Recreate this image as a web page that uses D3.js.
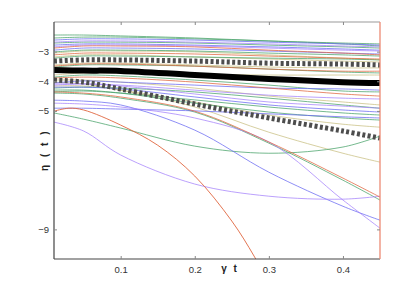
<!DOCTYPE html>
<html>
<head>
<meta charset="utf-8">
<script src="https://cdn.jsdelivr.net/npm/d3@7"></script>
<style>
  body { margin: 0; background: #fff; }
  text { font-family: "Liberation Sans", Arial, sans-serif; }
</style>
</head>
<body>
<div id="chart"></div>
<script>
const width = 420;
const height = 293;
const margin = {top: 22, right: 40, bottom: 34, left: 54};

// sample times shared by the thin curves
const tGrid = [0.01, 0.05, 0.1, 0.2, 0.3, 0.4, 0.45];

const greenCurves = [
  [-2.44, -2.44, -2.47, -2.54, -2.64, -2.71, -2.74],
  [-2.71, -2.68, -2.68, -2.71, -2.78, -2.84, -2.88],
  [-3.01, -2.95, -2.95, -2.98, -3.05, -3.11, -3.15],
  [-3.22, -3.15, -3.15, -3.18, -3.22, -3.25, -3.28],
  [-2.54, -2.51, -2.51, -2.57, -2.64, -2.74, -2.81],
  [-3.52, -3.45, -3.45, -3.49, -3.59, -3.69, -3.72],
  [-3.86, -3.79, -3.82, -3.96, -4.13, -4.33, -4.36],
  [-4.23, -4.20, -4.23, -4.36, -4.57, -4.80, -4.91],
  [-4.36, -4.33, -4.40, -4.63, -4.87, -5.07, -5.14],
  [-4.30, -4.30, -4.40, -4.74, -5.04, -5.24, -5.31],
  [-5.07, -5.28, -5.58, -6.19, -6.43, -6.22, -5.85],
  [-4.40, -4.43, -4.57, -5.04, -6.09, -7.34, -8.01]
];
const blueCurves = [
  [-2.61, -2.57, -2.57, -2.61, -2.68, -2.74, -2.78],
  [-2.78, -2.74, -2.74, -2.78, -2.84, -2.91, -2.95],
  [-2.95, -2.88, -2.88, -2.91, -2.98, -3.05, -3.08],
  [-4.06, -3.99, -4.03, -4.13, -4.23, -4.26, -4.30],
  [-4.20, -4.20, -4.26, -4.53, -4.80, -4.97, -5.04],
  [-4.64, -4.67, -4.80, -5.65, -7.07, -8.22, -8.69],
  [-4.91, -4.91, -4.94, -5.00, -5.10, -5.20, -5.24]
];
const redCurves = [
  [-2.88, -2.81, -2.81, -2.84, -2.95, -3.05, -3.11],
  [-3.11, -3.05, -3.05, -3.08, -3.15, -3.22, -3.25],
  [-3.49, -3.42, -3.42, -3.49, -3.59, -3.66, -3.66],
  [-3.89, -3.86, -3.89, -4.03, -4.23, -4.43, -4.50],
  [-4.36, -4.40, -4.53, -5.01, -6.05, -7.27, -7.91]
];
const purpleCurves = [
  [-2.68, -2.64, -2.64, -2.68, -2.74, -2.81, -2.84],
  [-2.84, -2.78, -2.78, -2.81, -2.88, -2.95, -2.98],
  [-4.13, -4.09, -4.13, -4.30, -4.47, -4.57, -4.60],
  [-4.09, -4.09, -4.16, -4.43, -4.70, -4.84, -4.91],
  [-4.74, -4.77, -4.87, -5.24, -6.05, -8.01, -8.96],
  [-5.38, -5.68, -6.49, -7.47, -7.88, -7.98, -7.88]
];
const oliveCurves = [
  [-3.05, -2.98, -2.98, -3.01, -3.11, -3.22, -3.28],
  [-3.18, -3.11, -3.11, -3.18, -3.25, -3.32, -3.35],
  [-3.45, -3.39, -3.39, -3.45, -3.52, -3.55, -3.55],
  [-3.79, -3.72, -3.72, -3.76, -3.79, -3.79, -3.79],
  [-3.96, -3.96, -4.03, -4.23, -4.50, -4.70, -4.80],
  [-4.16, -4.16, -4.30, -4.70, -5.14, -5.45, -5.55],
  [-4.03, -4.09, -4.30, -4.87, -5.72, -6.43, -6.73]
];

// the red curve that leaves through the bottom
const tSteep = [0.01, 0.03, 0.05, 0.1, 0.15, 0.2, 0.25, 0.28, 0.3];
const steepRed = [-5.01, -4.91, -4.97, -5.48, -6.16, -7.20, -8.72, -9.90, -10.82];

// mean and band
const meanLine = [-3.62, -3.64, -3.65, -3.79, -3.92, -4.03, -4.06];
const upperBand = [-3.32, -3.28, -3.28, -3.32, -3.39, -3.42, -3.45];
const lowerBand = [-3.96, -4.03, -4.26, -4.77, -5.24, -5.68, -5.92];

const xTicks = [0.1, 0.2, 0.3, 0.4];
const yTicks = [-3, -4, -5, -9];

const colors = {
  green: "#4aa36a",
  blue: "#6a6af2",
  red: "#e0663f",
  purple: "#a584fb",
  olive: "#c9c083"
};

const svg = d3.select("#chart")
  .append("svg")
  .attr("width", width)
  .attr("height", height);

const x = d3.scaleLinear()
  .domain([0.01, 0.45])
  .range([margin.left, width - margin.right]);

const y = d3.scaleLinear()
  .domain([-10, -2])
  .range([height - margin.bottom, margin.top]);

svg.append("clipPath").attr("id", "plot-clip")
  .append("rect")
  .attr("x", margin.left).attr("y", margin.top)
  .attr("width", x.range()[1] - margin.left)
  .attr("height", y.range()[0] - margin.top);

const line = d3.line()
  .x(d => x(d[0]))
  .y(d => y(d[1]))
  .curve(d3.curveCatmullRom);

const toPoints = (ts, vs) => ts.map((t, i) => [t, vs[i]]);

const plot = svg.append("g").attr("clip-path", "url(#plot-clip)");

const groups = [
  ["olive", oliveCurves],
  ["green", greenCurves],
  ["blue", blueCurves],
  ["purple", purpleCurves],
  ["red", redCurves]
];

groups.forEach(([name, curves]) => {
  plot.append("g")
    .selectAll("path")
    .data(curves)
    .join("path")
    .attr("d", vs => line(toPoints(tGrid, vs)))
    .attr("fill", "none")
    .attr("stroke", colors[name])
    .attr("stroke-width", 0.9)
    .attr("opacity", 0.85);
});

plot.append("path")
  .attr("d", line(toPoints(tSteep, steepRed)))
  .attr("fill", "none")
  .attr("stroke", colors.red)
  .attr("stroke-width", 0.9);

plot.append("path")
  .attr("d", line(toPoints(tGrid, meanLine)))
  .attr("fill", "none")
  .attr("stroke", "#000")
  .attr("stroke-width", 6);

[upperBand, lowerBand].forEach(vs => {
  plot.append("path")
    .attr("d", line(toPoints(tGrid, vs)))
    .attr("fill", "none")
    .attr("stroke", "#4d4d4d")
    .attr("stroke-width", 5)
    .attr("stroke-dasharray", "3,2.4");
});

// frame
const [x0, x1] = x.range();
const [yb, yt] = y.range();
svg.append("line").attr("x1", x0).attr("x2", x1).attr("y1", yt).attr("y2", yt)
  .attr("stroke", "#999").attr("stroke-width", 1);
svg.append("line").attr("x1", x0).attr("x2", x1).attr("y1", yb).attr("y2", yb)
  .attr("stroke", "#444").attr("stroke-width", 1.2);
svg.append("line").attr("x1", x0).attr("x2", x0).attr("y1", yt).attr("y2", yb)
  .attr("stroke", "#444").attr("stroke-width", 1.2);
svg.append("line").attr("x1", x1).attr("x2", x1).attr("y1", yt).attr("y2", yb)
  .attr("stroke", "#ec8a74").attr("stroke-width", 1.3);

// inward ticks
const fmt = d => d3.format(".1f")(d).replace(/^0/, "0");
svg.append("g")
  .attr("transform", `translate(0,${yb})`)
  .call(d3.axisBottom(x).tickValues(xTicks).tickSize(-3).tickPadding(7).tickFormat(d3.format(".1f")))
  .call(g => g.select(".domain").remove());
svg.append("g")
  .attr("transform", `translate(0,${yt})`)
  .call(d3.axisTop(x).tickValues(xTicks).tickSize(-3).tickFormat(""))
  .call(g => g.select(".domain").remove());
svg.append("g")
  .attr("transform", `translate(${x0},0)`)
  .call(d3.axisLeft(y).tickValues(yTicks).tickSize(-3).tickPadding(5).tickFormat(d => "\u2212" + Math.abs(d)))
  .call(g => g.select(".domain").remove());
svg.append("g")
  .attr("transform", `translate(${x1},0)`)
  .call(d3.axisRight(y).tickValues(yTicks).tickSize(-3).tickFormat(""))
  .call(g => g.select(".domain").remove());

svg.selectAll(".tick line").attr("stroke", "#888");
svg.selectAll(".tick text")
  .attr("fill", "#333")
  .style("font-size", "9.5px")
  .style("font-family", "Liberation Sans, Arial, sans-serif");

// axis labels
svg.append("text")
  .attr("x", 230).attr("y", 272)
  .attr("text-anchor", "middle")
  .attr("fill", "#222")
  .style("font-size", "10px")
  .style("font-weight", "bold")
  .style("letter-spacing", "2px")
  .text("\u03b3 t");

svg.append("text")
  .attr("transform", `translate(48,150) rotate(-90)`)
  .attr("text-anchor", "middle")
  .attr("fill", "#222")
  .style("font-size", "10px")
  .style("font-weight", "bold")
  .style("letter-spacing", "2.5px")
  .text("\u03b7 ( t )");
</script>
</body>
</html>
